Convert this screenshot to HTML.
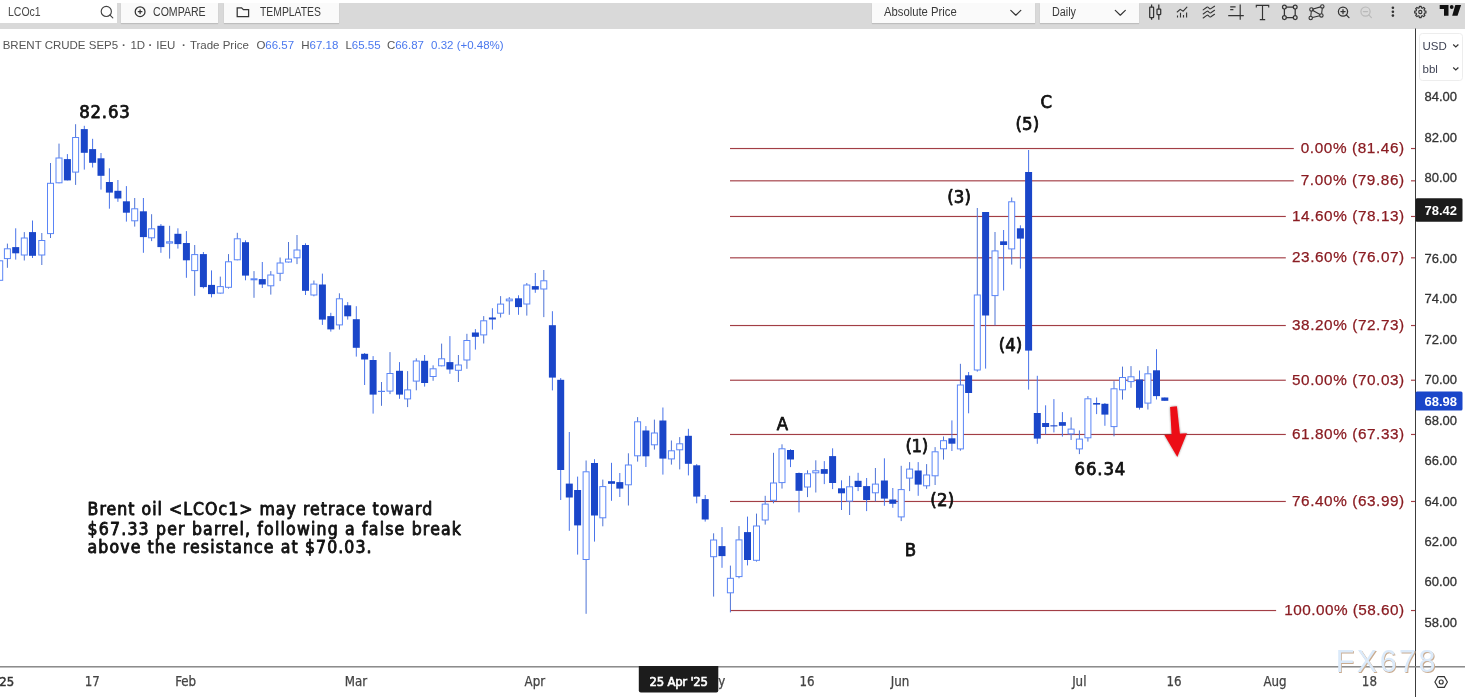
<!DOCTYPE html>
<html><head><meta charset="utf-8"><title>LCOc1 chart</title>
<style>
html,body{margin:0;padding:0;background:#fff;}
body{width:1465px;height:697px;overflow:hidden;position:relative;font-family:"Liberation Sans",sans-serif;}
#tb{position:absolute;left:0;top:3px;width:1465px;height:25.5px;background:#d9d9d9;}
.btn{position:absolute;top:3px;height:19.5px;background:#fafafa;box-shadow:0 1px 1px rgba(0,0,0,0.12);font-size:12px;color:#3a3a3a;white-space:nowrap;}
.t{position:absolute;top:3px;line-height:19.5px;font-size:12px;transform-origin:0 50%;white-space:nowrap;display:block;}
.btn .t{top:0}
#inp{position:absolute;left:0;top:0;width:117px;height:23px;background:#fff;font-size:12px;color:#4a4a4a;}
#legend{position:absolute;left:0;top:38.4px;font-size:11.5px;line-height:14px;color:#555;}
#legend span{position:absolute;top:0;white-space:pre;}
#legend .v{color:#4a78ee;}
svg{position:absolute;left:0;top:0;}
</style></head><body>
<div id="tb"></div>
<div id="inp"><span class="t" style="left:7.5px;transform:scaleX(0.875)">LCOc1</span></div>
<div class="btn" style="left:121.2px;width:97px"><span class="t" style="left:31.6px;transform:scaleX(0.88)">COMPARE</span></div>
<div class="btn" style="left:223.8px;width:115.2px"><span class="t" style="left:36.3px;transform:scaleX(0.865)">TEMPLATES</span></div>
<div class="btn" style="left:872px;width:162.5px"><span class="t" style="left:12.2px;transform:scaleX(0.94)">Absolute Price</span></div>
<div class="btn" style="left:1040px;width:99px"><span class="t" style="left:11.5px;transform:scaleX(0.9)">Daily</span></div>
<div id="legend"><span style="left:2.7px">BRENT CRUDE SEP5</span><span style="left:122.1px;font-weight:bold">·</span><span style="left:130.4px">1D</span><span style="left:148.4px;font-weight:bold">·</span><span style="left:156.2px">IEU</span><span style="left:182.1px;font-weight:bold">·</span><span style="left:189.9px">Trade Price</span><span style="left:256.4px">O</span><span style="left:265.3px" class="v">66.57</span><span style="left:301.2px">H</span><span style="left:309.5px" class="v">67.18</span><span style="left:345.4px">L</span><span style="left:351.8px" class="v">65.55</span><span style="left:386.9px">C</span><span style="left:395.2px" class="v">66.87</span><span style="left:431.1px" class="v">0.32 (+0.48%)</span></div>

<svg width="1465" height="697" viewBox="0 0 1465 697">
<g id="fib">
<rect x="730" y="147.95" width="563.8" height="1.15" fill="#a23e45"/>
<rect x="1411" y="147.95" width="4.5" height="1.15" fill="#a23e45"/>
<rect x="730" y="180.25" width="563.8" height="1.15" fill="#a23e45"/>
<rect x="1411" y="180.25" width="4.5" height="1.15" fill="#a23e45"/>
<rect x="730" y="215.90" width="555.8" height="1.15" fill="#a23e45"/>
<rect x="1411" y="215.90" width="4.5" height="1.15" fill="#a23e45"/>
<rect x="730" y="257.25" width="555.8" height="1.15" fill="#a23e45"/>
<rect x="1411" y="257.25" width="4.5" height="1.15" fill="#a23e45"/>
<rect x="730" y="324.95" width="555.8" height="1.15" fill="#a23e45"/>
<rect x="1411" y="324.95" width="4.5" height="1.15" fill="#a23e45"/>
<rect x="730" y="379.65" width="555.8" height="1.15" fill="#a23e45"/>
<rect x="1411" y="379.65" width="4.5" height="1.15" fill="#a23e45"/>
<rect x="730" y="433.90" width="555.8" height="1.15" fill="#a23e45"/>
<rect x="1411" y="433.90" width="4.5" height="1.15" fill="#a23e45"/>
<rect x="730" y="500.90" width="555.8" height="1.15" fill="#a23e45"/>
<rect x="1411" y="500.90" width="4.5" height="1.15" fill="#a23e45"/>
<rect x="730" y="609.95" width="546.1" height="1.15" fill="#a23e45"/>
<rect x="1411" y="609.95" width="4.5" height="1.15" fill="#a23e45"/>
</g>
<g id="candles">
<rect x="-0.8" y="260.3" width="1" height="20.5" fill="#4f74d6"/>
<rect x="-3.3" y="260.8" width="6" height="19.5" fill="#fff" stroke="#5a85f7" stroke-width="1"/>
<rect x="6.9" y="243.6" width="1" height="24.2" fill="#4f74d6"/>
<rect x="4.4" y="248.8" width="6" height="9.8" fill="#fff" stroke="#5a85f7" stroke-width="1"/>
<rect x="15.2" y="228.3" width="1" height="31.3" fill="#4a74ea"/>
<rect x="12.2" y="247.1" width="7" height="6.2" fill="#1a46c9"/>
<rect x="23.8" y="232.1" width="1" height="28.4" fill="#4f74d6"/>
<rect x="21.3" y="238.0" width="6" height="17.0" fill="#fff" stroke="#5a85f7" stroke-width="1"/>
<rect x="32.0" y="220.5" width="1" height="37.5" fill="#4a74ea"/>
<rect x="29.0" y="232.1" width="7" height="23.7" fill="#1a46c9"/>
<rect x="41.3" y="233.0" width="1" height="32.0" fill="#4f74d6"/>
<rect x="38.8" y="240.5" width="6" height="14.5" fill="#fff" stroke="#5a85f7" stroke-width="1"/>
<rect x="50.0" y="163.0" width="1" height="75.0" fill="#4f74d6"/>
<rect x="47.5" y="183.3" width="6" height="50.3" fill="#fff" stroke="#5a85f7" stroke-width="1"/>
<rect x="58.5" y="143.6" width="1" height="39.7" fill="#4f74d6"/>
<rect x="56.0" y="158.0" width="6" height="24.8" fill="#fff" stroke="#5a85f7" stroke-width="1"/>
<rect x="66.9" y="154.1" width="1" height="26.3" fill="#4a74ea"/>
<rect x="63.9" y="159.1" width="7" height="21.3" fill="#1a46c9"/>
<rect x="75.1" y="124.2" width="1" height="60.7" fill="#4f74d6"/>
<rect x="72.6" y="137.5" width="6" height="34.6" fill="#fff" stroke="#5a85f7" stroke-width="1"/>
<rect x="83.8" y="125.8" width="1" height="43.8" fill="#4a74ea"/>
<rect x="80.8" y="129.1" width="7" height="23.7" fill="#1a46c9"/>
<rect x="92.1" y="138.8" width="1" height="28.7" fill="#4a74ea"/>
<rect x="89.1" y="149.1" width="7" height="13.7" fill="#1a46c9"/>
<rect x="100.5" y="153.0" width="1" height="36.6" fill="#4a74ea"/>
<rect x="97.5" y="158.3" width="7" height="17.5" fill="#1a46c9"/>
<rect x="108.9" y="168.3" width="1" height="40.4" fill="#4a74ea"/>
<rect x="105.9" y="182.0" width="7" height="10.6" fill="#1a46c9"/>
<rect x="117.4" y="180.0" width="1" height="21.8" fill="#4a74ea"/>
<rect x="114.4" y="190.8" width="7" height="7.7" fill="#1a46c9"/>
<rect x="125.9" y="186.1" width="1" height="35.5" fill="#4a74ea"/>
<rect x="122.9" y="201.3" width="7" height="11.4" fill="#1a46c9"/>
<rect x="134.2" y="198.0" width="1" height="28.6" fill="#4f74d6"/>
<rect x="131.7" y="208.8" width="6" height="12.0" fill="#fff" stroke="#5a85f7" stroke-width="1"/>
<rect x="142.9" y="198.0" width="1" height="54.8" fill="#4a74ea"/>
<rect x="139.9" y="211.3" width="7" height="25.8" fill="#1a46c9"/>
<rect x="151.1" y="214.2" width="1" height="26.9" fill="#4f74d6"/>
<rect x="148.6" y="228.8" width="6" height="9.0" fill="#fff" stroke="#5a85f7" stroke-width="1"/>
<rect x="160.4" y="224.1" width="1" height="28.7" fill="#4a74ea"/>
<rect x="157.4" y="225.8" width="7" height="21.3" fill="#1a46c9"/>
<rect x="169.1" y="225.8" width="1" height="32.8" fill="#4f74d6"/>
<rect x="166.6" y="241.8" width="6" height="1.3" fill="#fff" stroke="#5a85f7" stroke-width="1"/>
<rect x="177.4" y="228.3" width="1" height="20.3" fill="#4a74ea"/>
<rect x="174.4" y="233.8" width="7" height="10.3" fill="#1a46c9"/>
<rect x="185.9" y="231.1" width="1" height="46.7" fill="#4a74ea"/>
<rect x="182.9" y="243.0" width="7" height="17.3" fill="#1a46c9"/>
<rect x="194.2" y="245.0" width="1" height="50.8" fill="#4f74d6"/>
<rect x="191.7" y="254.6" width="6" height="16.0" fill="#fff" stroke="#5a85f7" stroke-width="1"/>
<rect x="202.9" y="252.0" width="1" height="36.3" fill="#4a74ea"/>
<rect x="199.9" y="254.1" width="7" height="33.0" fill="#1a46c9"/>
<rect x="211.0" y="270.4" width="1" height="27.0" fill="#4a74ea"/>
<rect x="208.0" y="284.9" width="7" height="9.2" fill="#1a46c9"/>
<rect x="219.8" y="276.6" width="1" height="17.0" fill="#4f74d6"/>
<rect x="217.3" y="286.6" width="6" height="6.5" fill="#fff" stroke="#5a85f7" stroke-width="1"/>
<rect x="228.0" y="254.1" width="1" height="34.5" fill="#4f74d6"/>
<rect x="225.5" y="261.8" width="6" height="25.5" fill="#fff" stroke="#5a85f7" stroke-width="1"/>
<rect x="236.8" y="232.8" width="1" height="27.5" fill="#4f74d6"/>
<rect x="234.3" y="238.8" width="6" height="21.0" fill="#fff" stroke="#5a85f7" stroke-width="1"/>
<rect x="245.0" y="240.3" width="1" height="40.0" fill="#4a74ea"/>
<rect x="242.0" y="242.2" width="7" height="33.4" fill="#1a46c9"/>
<rect x="253.5" y="271.1" width="1" height="26.7" fill="#4f74d6"/>
<rect x="251.0" y="278.8" width="6" height="1.0" fill="#fff" stroke="#5a85f7" stroke-width="1"/>
<rect x="261.8" y="262.0" width="1" height="26.0" fill="#4a74ea"/>
<rect x="258.8" y="279.1" width="7" height="5.4" fill="#1a46c9"/>
<rect x="270.3" y="271.1" width="1" height="23.5" fill="#4f74d6"/>
<rect x="267.8" y="275.0" width="6" height="10.8" fill="#fff" stroke="#5a85f7" stroke-width="1"/>
<rect x="279.6" y="257.5" width="1" height="23.6" fill="#4f74d6"/>
<rect x="277.1" y="263.0" width="6" height="10.3" fill="#fff" stroke="#5a85f7" stroke-width="1"/>
<rect x="288.0" y="242.0" width="1" height="20.5" fill="#4f74d6"/>
<rect x="285.5" y="259.1" width="6" height="2.9" fill="#fff" stroke="#5a85f7" stroke-width="1"/>
<rect x="296.5" y="235.0" width="1" height="29.1" fill="#4f74d6"/>
<rect x="294.0" y="250.0" width="6" height="7.8" fill="#fff" stroke="#5a85f7" stroke-width="1"/>
<rect x="305.0" y="243.3" width="1" height="51.7" fill="#4a74ea"/>
<rect x="302.0" y="245.0" width="7" height="45.8" fill="#1a46c9"/>
<rect x="313.4" y="280.5" width="1" height="15.8" fill="#4f74d6"/>
<rect x="310.9" y="284.1" width="6" height="10.9" fill="#fff" stroke="#5a85f7" stroke-width="1"/>
<rect x="321.9" y="273.6" width="1" height="51.3" fill="#4a74ea"/>
<rect x="318.9" y="284.5" width="7" height="35.1" fill="#1a46c9"/>
<rect x="330.3" y="312.8" width="1" height="18.8" fill="#4a74ea"/>
<rect x="327.3" y="316.1" width="7" height="13.3" fill="#1a46c9"/>
<rect x="338.9" y="293.3" width="1" height="36.3" fill="#4f74d6"/>
<rect x="336.4" y="298.8" width="6" height="26.1" fill="#fff" stroke="#5a85f7" stroke-width="1"/>
<rect x="347.2" y="302.1" width="1" height="17.5" fill="#4a74ea"/>
<rect x="344.2" y="305.3" width="7" height="11.0" fill="#1a46c9"/>
<rect x="355.8" y="306.2" width="1" height="50.4" fill="#4a74ea"/>
<rect x="352.8" y="319.2" width="7" height="28.6" fill="#1a46c9"/>
<rect x="364.1" y="353.0" width="1" height="32.0" fill="#4a74ea"/>
<rect x="361.1" y="353.8" width="7" height="5.7" fill="#1a46c9"/>
<rect x="372.6" y="356.1" width="1" height="57.5" fill="#4a74ea"/>
<rect x="369.6" y="360.0" width="7" height="34.6" fill="#1a46c9"/>
<rect x="381.0" y="382.0" width="1" height="23.8" fill="#4f74d6"/>
<rect x="378.5" y="391.3" width="6" height="0.2" fill="#fff" stroke="#5a85f7" stroke-width="1"/>
<rect x="389.5" y="352.1" width="1" height="42.0" fill="#4f74d6"/>
<rect x="387.0" y="373.5" width="6" height="17.6" fill="#fff" stroke="#5a85f7" stroke-width="1"/>
<rect x="399.0" y="362.1" width="1" height="36.7" fill="#4a74ea"/>
<rect x="396.0" y="370.8" width="7" height="23.8" fill="#1a46c9"/>
<rect x="407.1" y="371.1" width="1" height="36.0" fill="#4f74d6"/>
<rect x="404.6" y="389.9" width="6" height="9.0" fill="#fff" stroke="#5a85f7" stroke-width="1"/>
<rect x="415.8" y="358.3" width="1" height="32.0" fill="#4f74d6"/>
<rect x="413.3" y="361.0" width="6" height="20.1" fill="#fff" stroke="#5a85f7" stroke-width="1"/>
<rect x="424.1" y="355.0" width="1" height="31.6" fill="#4a74ea"/>
<rect x="421.1" y="360.8" width="7" height="22.2" fill="#1a46c9"/>
<rect x="432.6" y="365.3" width="1" height="15.5" fill="#4f74d6"/>
<rect x="430.1" y="368.8" width="6" height="7.7" fill="#fff" stroke="#5a85f7" stroke-width="1"/>
<rect x="441.1" y="343.6" width="1" height="22.7" fill="#4f74d6"/>
<rect x="438.6" y="358.8" width="6" height="7.0" fill="#fff" stroke="#5a85f7" stroke-width="1"/>
<rect x="449.4" y="336.1" width="1" height="37.7" fill="#4a74ea"/>
<rect x="446.4" y="362.1" width="7" height="7.4" fill="#1a46c9"/>
<rect x="457.9" y="355.0" width="1" height="27.0" fill="#4f74d6"/>
<rect x="455.4" y="365.0" width="6" height="5.3" fill="#fff" stroke="#5a85f7" stroke-width="1"/>
<rect x="466.4" y="333.8" width="1" height="35.0" fill="#4f74d6"/>
<rect x="463.9" y="340.5" width="6" height="19.5" fill="#fff" stroke="#5a85f7" stroke-width="1"/>
<rect x="474.9" y="329.1" width="1" height="20.5" fill="#4a74ea"/>
<rect x="471.9" y="332.5" width="7" height="4.3" fill="#1a46c9"/>
<rect x="483.2" y="316.1" width="1" height="27.4" fill="#4f74d6"/>
<rect x="480.7" y="320.8" width="6" height="14.1" fill="#fff" stroke="#5a85f7" stroke-width="1"/>
<rect x="491.9" y="308.2" width="1" height="21.4" fill="#4a74ea"/>
<rect x="488.9" y="317.5" width="7" height="2.0" fill="#1a46c9"/>
<rect x="500.1" y="296.1" width="1" height="21.4" fill="#4f74d6"/>
<rect x="497.6" y="304.1" width="6" height="9.1" fill="#fff" stroke="#5a85f7" stroke-width="1"/>
<rect x="508.8" y="297.1" width="1" height="17.7" fill="#4f74d6"/>
<rect x="506.3" y="299.1" width="6" height="1.7" fill="#fff" stroke="#5a85f7" stroke-width="1"/>
<rect x="518.0" y="295.3" width="1" height="19.5" fill="#4a74ea"/>
<rect x="515.0" y="298.3" width="7" height="8.8" fill="#1a46c9"/>
<rect x="526.3" y="283.0" width="1" height="32.6" fill="#4f74d6"/>
<rect x="523.8" y="285.0" width="6" height="19.0" fill="#fff" stroke="#5a85f7" stroke-width="1"/>
<rect x="534.8" y="273.0" width="1" height="19.8" fill="#4a74ea"/>
<rect x="531.8" y="286.1" width="7" height="3.5" fill="#1a46c9"/>
<rect x="543.3" y="270.0" width="1" height="47.1" fill="#4f74d6"/>
<rect x="540.8" y="280.8" width="6" height="8.2" fill="#fff" stroke="#5a85f7" stroke-width="1"/>
<rect x="551.9" y="311.2" width="1" height="79.2" fill="#4a74ea"/>
<rect x="548.9" y="325.2" width="7" height="52.4" fill="#1a46c9"/>
<rect x="560.2" y="378.1" width="1" height="121.9" fill="#4a74ea"/>
<rect x="557.2" y="379.8" width="7" height="90.2" fill="#1a46c9"/>
<rect x="568.8" y="432.0" width="1" height="98.8" fill="#4a74ea"/>
<rect x="565.8" y="483.6" width="7" height="13.9" fill="#1a46c9"/>
<rect x="577.1" y="476.6" width="1" height="78.0" fill="#4a74ea"/>
<rect x="574.1" y="490.0" width="7" height="35.4" fill="#1a46c9"/>
<rect x="585.6" y="460.5" width="1" height="153.3" fill="#4f74d6"/>
<rect x="583.1" y="471.8" width="6" height="87.7" fill="#fff" stroke="#5a85f7" stroke-width="1"/>
<rect x="594.0" y="459.2" width="1" height="82.4" fill="#4a74ea"/>
<rect x="591.0" y="463.0" width="7" height="52.5" fill="#1a46c9"/>
<rect x="602.3" y="479.6" width="1" height="46.7" fill="#4f74d6"/>
<rect x="599.8" y="486.6" width="6" height="31.2" fill="#fff" stroke="#5a85f7" stroke-width="1"/>
<rect x="611.0" y="462.8" width="1" height="38.0" fill="#4a74ea"/>
<rect x="608.0" y="481.2" width="7" height="2.6" fill="#1a46c9"/>
<rect x="619.3" y="473.0" width="1" height="24.0" fill="#4a74ea"/>
<rect x="616.3" y="482.1" width="7" height="6.5" fill="#1a46c9"/>
<rect x="627.9" y="453.3" width="1" height="52.2" fill="#4f74d6"/>
<rect x="625.4" y="465.0" width="6" height="19.8" fill="#fff" stroke="#5a85f7" stroke-width="1"/>
<rect x="637.1" y="417.1" width="1" height="44.5" fill="#4f74d6"/>
<rect x="634.6" y="421.8" width="6" height="34.0" fill="#fff" stroke="#5a85f7" stroke-width="1"/>
<rect x="645.4" y="426.1" width="1" height="40.9" fill="#4a74ea"/>
<rect x="642.4" y="430.5" width="7" height="25.8" fill="#1a46c9"/>
<rect x="653.9" y="419.6" width="1" height="30.0" fill="#4f74d6"/>
<rect x="651.4" y="433.0" width="6" height="11.8" fill="#fff" stroke="#5a85f7" stroke-width="1"/>
<rect x="662.4" y="407.5" width="1" height="67.1" fill="#4a74ea"/>
<rect x="659.4" y="420.5" width="7" height="38.1" fill="#1a46c9"/>
<rect x="670.9" y="440.5" width="1" height="24.1" fill="#4f74d6"/>
<rect x="668.4" y="450.8" width="6" height="8.1" fill="#fff" stroke="#5a85f7" stroke-width="1"/>
<rect x="679.2" y="437.1" width="1" height="32.3" fill="#4f74d6"/>
<rect x="676.7" y="443.8" width="6" height="6.0" fill="#fff" stroke="#5a85f7" stroke-width="1"/>
<rect x="687.9" y="428.8" width="1" height="46.6" fill="#4a74ea"/>
<rect x="684.9" y="435.8" width="7" height="28.0" fill="#1a46c9"/>
<rect x="696.2" y="464.1" width="1" height="39.2" fill="#4a74ea"/>
<rect x="693.2" y="465.3" width="7" height="31.3" fill="#1a46c9"/>
<rect x="704.7" y="495.0" width="1" height="26.6" fill="#4a74ea"/>
<rect x="701.7" y="499.1" width="7" height="20.4" fill="#1a46c9"/>
<rect x="713.1" y="533.3" width="1" height="63.3" fill="#4f74d6"/>
<rect x="710.6" y="540.0" width="6" height="16.7" fill="#fff" stroke="#5a85f7" stroke-width="1"/>
<rect x="721.5" y="527.1" width="1" height="40.7" fill="#4a74ea"/>
<rect x="718.5" y="546.1" width="7" height="10.0" fill="#1a46c9"/>
<rect x="729.9" y="565.6" width="1" height="46.8" fill="#4f74d6"/>
<rect x="727.4" y="578.3" width="6" height="14.5" fill="#fff" stroke="#5a85f7" stroke-width="1"/>
<rect x="738.5" y="526.1" width="1" height="52.2" fill="#4f74d6"/>
<rect x="736.0" y="539.9" width="6" height="36.7" fill="#fff" stroke="#5a85f7" stroke-width="1"/>
<rect x="747.0" y="516.6" width="1" height="48.8" fill="#4a74ea"/>
<rect x="744.0" y="532.1" width="7" height="27.9" fill="#1a46c9"/>
<rect x="756.0" y="513.6" width="1" height="48.0" fill="#4f74d6"/>
<rect x="753.5" y="526.0" width="6" height="34.3" fill="#fff" stroke="#5a85f7" stroke-width="1"/>
<rect x="764.7" y="495.8" width="1" height="28.8" fill="#4f74d6"/>
<rect x="762.2" y="504.1" width="6" height="15.9" fill="#fff" stroke="#5a85f7" stroke-width="1"/>
<rect x="773.0" y="452.8" width="1" height="50.5" fill="#4f74d6"/>
<rect x="770.5" y="483.0" width="6" height="17.3" fill="#fff" stroke="#5a85f7" stroke-width="1"/>
<rect x="781.5" y="444.3" width="1" height="44.3" fill="#4f74d6"/>
<rect x="779.0" y="448.8" width="6" height="33.8" fill="#fff" stroke="#5a85f7" stroke-width="1"/>
<rect x="790.0" y="449.2" width="1" height="17.9" fill="#4a74ea"/>
<rect x="787.0" y="450.0" width="7" height="9.5" fill="#1a46c9"/>
<rect x="798.5" y="472.5" width="1" height="39.9" fill="#4a74ea"/>
<rect x="795.5" y="473.0" width="7" height="17.8" fill="#1a46c9"/>
<rect x="807.0" y="470.3" width="1" height="26.8" fill="#4f74d6"/>
<rect x="804.5" y="473.8" width="6" height="13.2" fill="#fff" stroke="#5a85f7" stroke-width="1"/>
<rect x="815.3" y="460.3" width="1" height="32.2" fill="#4f74d6"/>
<rect x="812.8" y="470.8" width="6" height="2.0" fill="#fff" stroke="#5a85f7" stroke-width="1"/>
<rect x="823.8" y="461.1" width="1" height="23.0" fill="#4a74ea"/>
<rect x="820.8" y="469.1" width="7" height="4.7" fill="#1a46c9"/>
<rect x="832.1" y="448.3" width="1" height="40.8" fill="#4a74ea"/>
<rect x="829.1" y="456.1" width="7" height="26.9" fill="#1a46c9"/>
<rect x="841.0" y="480.3" width="1" height="29.7" fill="#4a74ea"/>
<rect x="838.0" y="488.3" width="7" height="5.0" fill="#1a46c9"/>
<rect x="849.1" y="475.8" width="1" height="39.2" fill="#4f74d6"/>
<rect x="846.6" y="486.8" width="6" height="14.3" fill="#fff" stroke="#5a85f7" stroke-width="1"/>
<rect x="857.6" y="472.8" width="1" height="18.3" fill="#4a74ea"/>
<rect x="854.6" y="480.8" width="7" height="6.2" fill="#1a46c9"/>
<rect x="866.1" y="478.0" width="1" height="33.1" fill="#4a74ea"/>
<rect x="863.1" y="486.1" width="7" height="13.9" fill="#1a46c9"/>
<rect x="874.9" y="468.0" width="1" height="33.3" fill="#4f74d6"/>
<rect x="872.4" y="484.1" width="6" height="8.7" fill="#fff" stroke="#5a85f7" stroke-width="1"/>
<rect x="883.9" y="458.3" width="1" height="47.5" fill="#4a74ea"/>
<rect x="880.9" y="480.5" width="7" height="18.1" fill="#1a46c9"/>
<rect x="892.3" y="488.0" width="1" height="19.8" fill="#4a74ea"/>
<rect x="889.3" y="499.5" width="7" height="4.3" fill="#1a46c9"/>
<rect x="900.7" y="465.8" width="1" height="55.3" fill="#4f74d6"/>
<rect x="898.2" y="489.6" width="6" height="27.3" fill="#fff" stroke="#5a85f7" stroke-width="1"/>
<rect x="909.1" y="462.1" width="1" height="29.0" fill="#4f74d6"/>
<rect x="906.6" y="469.1" width="6" height="9.0" fill="#fff" stroke="#5a85f7" stroke-width="1"/>
<rect x="917.7" y="462.1" width="1" height="33.7" fill="#4a74ea"/>
<rect x="914.7" y="470.5" width="7" height="14.1" fill="#1a46c9"/>
<rect x="926.1" y="464.1" width="1" height="24.7" fill="#4f74d6"/>
<rect x="923.6" y="475.0" width="6" height="10.8" fill="#fff" stroke="#5a85f7" stroke-width="1"/>
<rect x="934.6" y="447.1" width="1" height="37.9" fill="#4f74d6"/>
<rect x="932.1" y="451.8" width="6" height="24.0" fill="#fff" stroke="#5a85f7" stroke-width="1"/>
<rect x="943.0" y="436.5" width="1" height="23.1" fill="#4f74d6"/>
<rect x="940.5" y="440.7" width="6" height="8.1" fill="#fff" stroke="#5a85f7" stroke-width="1"/>
<rect x="951.4" y="420.4" width="1" height="30.6" fill="#4a74ea"/>
<rect x="948.4" y="438.3" width="7" height="5.4" fill="#1a46c9"/>
<rect x="959.9" y="363.8" width="1" height="86.9" fill="#4f74d6"/>
<rect x="957.4" y="385.0" width="6" height="63.9" fill="#fff" stroke="#5a85f7" stroke-width="1"/>
<rect x="968.1" y="372.0" width="1" height="41.3" fill="#4a74ea"/>
<rect x="965.1" y="375.3" width="7" height="17.7" fill="#1a46c9"/>
<rect x="976.8" y="208.0" width="1" height="163.6" fill="#4f74d6"/>
<rect x="974.3" y="295.0" width="6" height="75.0" fill="#fff" stroke="#5a85f7" stroke-width="1"/>
<rect x="985.1" y="212.0" width="1" height="156.6" fill="#4a74ea"/>
<rect x="982.1" y="212.0" width="7" height="103.5" fill="#1a46c9"/>
<rect x="994.5" y="232.0" width="1" height="93.3" fill="#4f74d6"/>
<rect x="992.0" y="250.9" width="6" height="44.7" fill="#fff" stroke="#5a85f7" stroke-width="1"/>
<rect x="1003.1" y="230.0" width="1" height="60.5" fill="#4a74ea"/>
<rect x="1000.1" y="241.3" width="7" height="3.7" fill="#1a46c9"/>
<rect x="1011.2" y="197.5" width="1" height="67.1" fill="#4f74d6"/>
<rect x="1008.7" y="201.8" width="6" height="47.1" fill="#fff" stroke="#5a85f7" stroke-width="1"/>
<rect x="1019.9" y="225.3" width="1" height="43.3" fill="#4a74ea"/>
<rect x="1016.9" y="228.3" width="7" height="10.3" fill="#1a46c9"/>
<rect x="1028.1" y="150.0" width="1" height="239.6" fill="#4a74ea"/>
<rect x="1025.1" y="172.0" width="7" height="178.6" fill="#1a46c9"/>
<rect x="1036.8" y="375.8" width="1" height="68.0" fill="#4a74ea"/>
<rect x="1033.8" y="413.0" width="7" height="25.6" fill="#1a46c9"/>
<rect x="1045.1" y="405.3" width="1" height="29.1" fill="#4a74ea"/>
<rect x="1042.1" y="423.0" width="7" height="4.0" fill="#1a46c9"/>
<rect x="1053.4" y="399.1" width="1" height="33.3" fill="#4a74ea"/>
<rect x="1050.4" y="425.3" width="7" height="1.1" fill="#1a46c9"/>
<rect x="1061.9" y="412.1" width="1" height="24.5" fill="#4a74ea"/>
<rect x="1058.9" y="422.1" width="7" height="3.7" fill="#1a46c9"/>
<rect x="1070.6" y="417.4" width="1" height="22.6" fill="#4f74d6"/>
<rect x="1068.1" y="429.1" width="6" height="4.8" fill="#fff" stroke="#5a85f7" stroke-width="1"/>
<rect x="1078.9" y="430.4" width="1" height="23.7" fill="#4f74d6"/>
<rect x="1076.4" y="439.1" width="6" height="9.8" fill="#fff" stroke="#5a85f7" stroke-width="1"/>
<rect x="1087.4" y="396.1" width="1" height="45.5" fill="#4f74d6"/>
<rect x="1084.9" y="398.8" width="6" height="39.0" fill="#fff" stroke="#5a85f7" stroke-width="1"/>
<rect x="1096.1" y="397.5" width="1" height="16.6" fill="#4a74ea"/>
<rect x="1093.1" y="403.0" width="7" height="1.6" fill="#1a46c9"/>
<rect x="1104.4" y="403.0" width="1" height="22.8" fill="#4a74ea"/>
<rect x="1101.4" y="403.8" width="7" height="10.8" fill="#1a46c9"/>
<rect x="1113.5" y="381.1" width="1" height="55.2" fill="#4f74d6"/>
<rect x="1111.0" y="388.8" width="6" height="37.8" fill="#fff" stroke="#5a85f7" stroke-width="1"/>
<rect x="1122.0" y="366.6" width="1" height="33.0" fill="#4f74d6"/>
<rect x="1119.5" y="377.5" width="6" height="12.3" fill="#fff" stroke="#5a85f7" stroke-width="1"/>
<rect x="1130.5" y="366.1" width="1" height="21.7" fill="#4f74d6"/>
<rect x="1128.0" y="376.8" width="6" height="4.8" fill="#fff" stroke="#5a85f7" stroke-width="1"/>
<rect x="1139.0" y="370.5" width="1" height="39.1" fill="#4a74ea"/>
<rect x="1136.0" y="379.5" width="7" height="28.3" fill="#1a46c9"/>
<rect x="1147.4" y="366.1" width="1" height="43.4" fill="#4f74d6"/>
<rect x="1144.9" y="373.8" width="6" height="29.3" fill="#fff" stroke="#5a85f7" stroke-width="1"/>
<rect x="1156.0" y="349.2" width="1" height="50.3" fill="#4a74ea"/>
<rect x="1153.0" y="370.3" width="7" height="25.8" fill="#1a46c9"/>
<rect x="1164.3" y="397.5" width="1" height="3.3" fill="#4a74ea"/>
<rect x="1161.3" y="397.5" width="7" height="3.3" fill="#1a46c9"/>
</g>
<g font-family="Liberation Sans, sans-serif" font-size="15.3" fill="#8a1c22" stroke="#8a1c22" stroke-width="0.25">
<text x="1300.7" y="152.8" textLength="103.5" lengthAdjust="spacing">0.00% (81.46)</text>
<text x="1300.7" y="185.3" textLength="103.5" lengthAdjust="spacing">7.00% (79.86)</text>
<text x="1292" y="220.9" textLength="112.2" lengthAdjust="spacing">14.60% (78.13)</text>
<text x="1292" y="262.3" textLength="112.2" lengthAdjust="spacing">23.60% (76.07)</text>
<text x="1292" y="329.9" textLength="112.2" lengthAdjust="spacing">38.20% (72.73)</text>
<text x="1292" y="384.7" textLength="112.2" lengthAdjust="spacing">50.00% (70.03)</text>
<text x="1292" y="439.0" textLength="112.2" lengthAdjust="spacing">61.80% (67.33)</text>
<text x="1292" y="505.9" textLength="112.2" lengthAdjust="spacing">76.40% (63.99)</text>
<text x="1284.2" y="614.9" textLength="120.0" lengthAdjust="spacing">100.00% (58.60)</text>
</g>
<rect x="1415" y="28.5" width="1" height="669" fill="#3c3c3c"/>
<rect x="0" y="666.1" width="1465" height="1.4" fill="#808080"/>
<g font-family="Liberation Sans, sans-serif" font-size="13" fill="#333" stroke="#333" stroke-width="0.3">
<text x="1424.5" y="101.3">84.00</text>
<text x="1424.5" y="141.7">82.00</text>
<text x="1424.5" y="182.1">80.00</text>
<text x="1424.5" y="263.0">76.00</text>
<text x="1424.5" y="303.4">74.00</text>
<text x="1424.5" y="343.8">72.00</text>
<text x="1424.5" y="384.3">70.00</text>
<text x="1424.5" y="424.7">68.00</text>
<text x="1424.5" y="465.1">66.00</text>
<text x="1424.5" y="505.5">64.00</text>
<text x="1424.5" y="546.0">62.00</text>
<text x="1424.5" y="586.4">60.00</text>
<text x="1424.5" y="626.8">58.00</text>
</g>
<rect x="1415.5" y="198.3" width="47" height="23.5" rx="1.5" fill="#1c1c1c"/>
<text x="1424.5" y="214.6" font-family="Liberation Sans, sans-serif" font-weight="bold" font-size="13" fill="#fff">78.42</text>
<rect x="1415.5" y="391.4" width="47" height="19" rx="1.5" fill="#1a46c9"/>
<text x="1424.5" y="405.6" font-family="Liberation Sans, sans-serif" font-weight="bold" font-size="13" fill="#fff">68.98</text>
<rect x="1419.5" y="33.5" width="43" height="47" rx="3" fill="#fff" stroke="#ededed" stroke-width="1"/>
<g font-family="Liberation Sans, sans-serif" font-size="11.5" fill="#3f4354"><text x="1422.5" y="50">USD</text><text x="1422.5" y="72.7">bbl</text></g>
<path d="M1453.2 44.5l2.6 2.4l2.6 -2.4M1453.2 67.5l2.6 2.4l2.6 -2.4" fill="none" stroke="#333" stroke-width="1.2"/>
<g font-family="DejaVu Sans Condensed, DejaVu Sans, sans-serif" font-size="13.2" fill="#444" stroke="#444" stroke-width="0.25" text-anchor="middle">
<text x="92.2" y="686.2">17</text>
<text x="185.7" y="686.2">Feb</text>
<text x="356" y="686.2">Mar</text>
<text x="534.8" y="686.2">Apr</text>
<text x="713" y="686.2">May</text>
<text x="807" y="686.2">16</text>
<text x="900.1" y="686.2">Jun</text>
<text x="1079.3" y="686.2">Jul</text>
<text x="1174" y="686.2">16</text>
<text x="1275" y="686.2">Aug</text>
<text x="1369.4" y="686.2">18</text>
</g>
<text x="-0.8" y="686.2" font-family="DejaVu Sans Condensed, DejaVu Sans, sans-serif" font-size="13" fill="#333" stroke="#333" stroke-width="0.5">25</text>
<path d="M638.8 666h79.5v24.4a2 2 0 0 1 -2 2h-75.5a2 2 0 0 1 -2 -2z" fill="#1c1c1c"/>
<text x="649.6" y="685.8" font-family="DejaVu Sans Condensed, DejaVu Sans, sans-serif" font-size="13" fill="#fff" stroke="#fff" stroke-width="0.6" textLength="58.4" lengthAdjust="spacing">25 Apr '25</text>
<g font-family="DejaVu Sans Condensed, DejaVu Sans, sans-serif" font-size="18.4" fill="#111" stroke="#111" stroke-width="0.75" stroke-linejoin="round">
<text x="79.3" y="118.0" textLength="50.4" lengthAdjust="spacing">82.63</text>
<text x="1040.4" y="108">C</text>
<text x="1015.6" y="129.7" textLength="23.5" lengthAdjust="spacing">(5)</text>
<text x="947.3" y="202.9" textLength="23.6" lengthAdjust="spacing">(3)</text>
<text x="998.8" y="351.3" textLength="23.4" lengthAdjust="spacing">(4)</text>
<text x="776.7" y="430.3">A</text>
<text x="905.4" y="452.1" textLength="22.8" lengthAdjust="spacing">(1)</text>
<text x="930.2" y="505.9" textLength="23.9" lengthAdjust="spacing">(2)</text>
<text x="904.8" y="555.6">B</text>
<text x="1074.6" y="475.2" textLength="50.8" lengthAdjust="spacing">66.34</text>
</g>
<g font-family="DejaVu Sans Condensed, DejaVu Sans, sans-serif" font-size="17.5" fill="#111" stroke="#111" stroke-width="0.85" stroke-linejoin="round">
<text x="87.6" y="515" textLength="344.6" lengthAdjust="spacing">Brent oil &lt;LCOc1&gt; may retrace toward</text>
<text x="87.6" y="534.5" textLength="373.4" lengthAdjust="spacing">$67.33 per barrel, following a false break</text>
<text x="87.6" y="553.4" textLength="284" lengthAdjust="spacing">above the resistance at $70.03.</text>
</g>
<defs><filter id="sh" x="-30%" y="-30%" width="160%" height="160%"><feGaussianBlur in="SourceAlpha" stdDeviation="0.9"/><feOffset dx="0.4" dy="0.4"/><feComponentTransfer><feFuncA type="linear" slope="0.45"/></feComponentTransfer><feMerge><feMergeNode/><feMergeNode in="SourceGraphic"/></feMerge></filter></defs>
<polygon filter="url(#sh)" points="1170.1,407 1176.9,406.3 1179.9,433.7 1186.9,433.2 1177.3,457 1164.4,435 1171.6,434.7" fill="#ec0d14"/>
<g font-family="Liberation Sans, sans-serif" font-size="30.5" letter-spacing="2.5"><text x="1336.5" y="672.6" fill="#c9ab8f">FX678</text><text x="1335.7" y="671.8" fill="#dbeafa">FX678</text></g>
<g fill="none" stroke="#333" stroke-width="1.25" stroke-linecap="round" stroke-linejoin="round">
<circle cx="106.3" cy="11.4" r="5.1" stroke="#444" stroke-width="1.15"/><path d="M110 15.2L112.8 17.8" stroke="#444" stroke-width="1.15"/>
<circle cx="140.1" cy="11.7" r="4.9"/><path d="M138.3 11.7h3.6M140.1 9.9v3.6"/>
<path d="M237.2 7.8h4.4l1.8 1.8h5.2v7h-11.4z" stroke-linejoin="miter"/>
<path d="M1010.8 10.4l5 4.8l5 -4.8M1115.3 10.4l5 4.8l5 -4.8" stroke-width="1.2"/>
<path d="M1151.6 4.6v2.6M1151.6 17.6v2.1M1158.8 4.6v4.4M1158.8 14.6v5.1" stroke-linecap="butt"/>
<rect x="1149.7" y="7.2" width="3.9" height="10.4" rx="0.6"/><rect x="1157" y="9" width="3.7" height="5.6" rx="0.5"/>
<path d="M1177.2 12L1180.2 9.4L1183.2 11.2L1186.9 7.2" stroke-width="1.1"/>
<path d="M1177.5 15.4v2.2M1180.5 12.8v4.8M1183.5 15v2.6M1186.6 12.4v5.2" stroke-linecap="butt" stroke-width="1.1"/>
<path d="M1203.2 9.9l3.6 -2.6q0.9 -0.6 1.6 0.2l0.8 0.9q0.7 0.8 1.7 0.2l3.6 -2.4" stroke-width="1.1"/>
<path d="M1203.2 14.0l3.6 -2.6q0.9 -0.6 1.6 0.2l0.8 0.9q0.7 0.8 1.7 0.2l3.6 -2.4" stroke-width="1.1"/>
<path d="M1203.2 18.0l3.6 -2.6q0.9 -0.6 1.6 0.2l0.8 0.9q0.7 0.8 1.7 0.2l3.6 -2.4" stroke-width="1.1"/>
<path d="M1240.2 4.6v15.1M1228.2 15.6h15.6M1230.2 6.9h5.4M1230.2 9.6h3.2" stroke-linecap="butt" stroke-width="1.15"/>
<path d="M1256.3 7.4v-2h12.4v2M1262.5 5.4v14.2M1259.8 19.6h5.4" stroke-width="1.15" stroke-linecap="butt" stroke-linejoin="miter"/>
<path d="M1286.4 7.1h6.8M1286.4 17.6h6.8M1284.4 9.1v6.5M1295.2 9.1v6.5" stroke-linecap="butt"/>
<circle cx="1284.4" cy="7.1" r="1.9"/>
<circle cx="1295.2" cy="7.1" r="1.9"/>
<circle cx="1284.4" cy="17.6" r="1.9"/>
<circle cx="1295.2" cy="17.6" r="1.9"/>
<path d="M1320.6 6.9L1313.1 9L1312.9 10.6L1320 14.6M1311.3 11.2L1310.8 16.2M1312.4 17.5L1319.8 15.8M1321.6 13.6L1322.3 8.2" stroke-width="1.1" stroke-linecap="butt"/>
<circle cx="1322.3" cy="6.4" r="1.7" stroke-width="1.1"/>
<circle cx="1311.4" cy="9.4" r="1.7" stroke-width="1.1"/>
<circle cx="1321.4" cy="15.4" r="1.7" stroke-width="1.1"/>
<circle cx="1310.7" cy="18" r="1.7" stroke-width="1.1"/>
<circle cx="1343" cy="11.6" r="4.6"/><path d="M1340.9 11.6h4.2M1343 9.5v4.2M1346.3 14.9L1349 17.6"/>
</g>
<g fill="none" stroke="#b9b9b9" stroke-width="1.2" stroke-linecap="round"><circle cx="1365.5" cy="11.6" r="4.6"/><path d="M1363.4 11.6h4.2M1368.8 14.9L1371.4 17.6"/></g>
<g fill="#333"><circle cx="1392.9" cy="7.7" r="1.3"/><circle cx="1392.9" cy="11.7" r="1.3"/><circle cx="1392.9" cy="15.6" r="1.3"/></g>
<path d="M1424.44 10.85L1425.93 11.09L1425.93 12.91L1424.44 13.15L1424.04 14.12L1424.92 15.34L1423.64 16.62L1422.42 15.74L1421.45 16.14L1421.21 17.63L1419.39 17.63L1419.15 16.14L1418.18 15.74L1416.96 16.62L1415.68 15.34L1416.56 14.12L1416.16 13.15L1414.67 12.91L1414.67 11.09L1416.16 10.85L1416.56 9.88L1415.68 8.66L1416.96 7.38L1418.18 8.26L1419.15 7.86L1419.39 6.37L1421.21 6.37L1421.45 7.86L1422.42 8.26L1423.64 7.38L1424.92 8.66L1424.04 9.88Z" fill="none" stroke="#333" stroke-width="1.15" stroke-linejoin="round"/>
<circle cx="1420.3" cy="12.0" r="1.6" fill="none" stroke="#333" stroke-width="1.15"/>
<path d="M1439.7 5.1h8.8v10.7h-4.5v-6.9h-4.3z" fill="#111"/><circle cx="1451.7" cy="7" r="1.9" fill="#111"/><path d="M1455.3 5.1h5.8l-3.6 10.7h-5.3z" fill="#111"/>
<g fill="none" stroke="#333" stroke-width="1.15"><path d="M1434.9 682l3.1 -5.4h6.3l3.1 5.4l-3.1 5.4h-6.3z"/><circle cx="1441.2" cy="682" r="2"/></g>
</svg>
</body></html>
